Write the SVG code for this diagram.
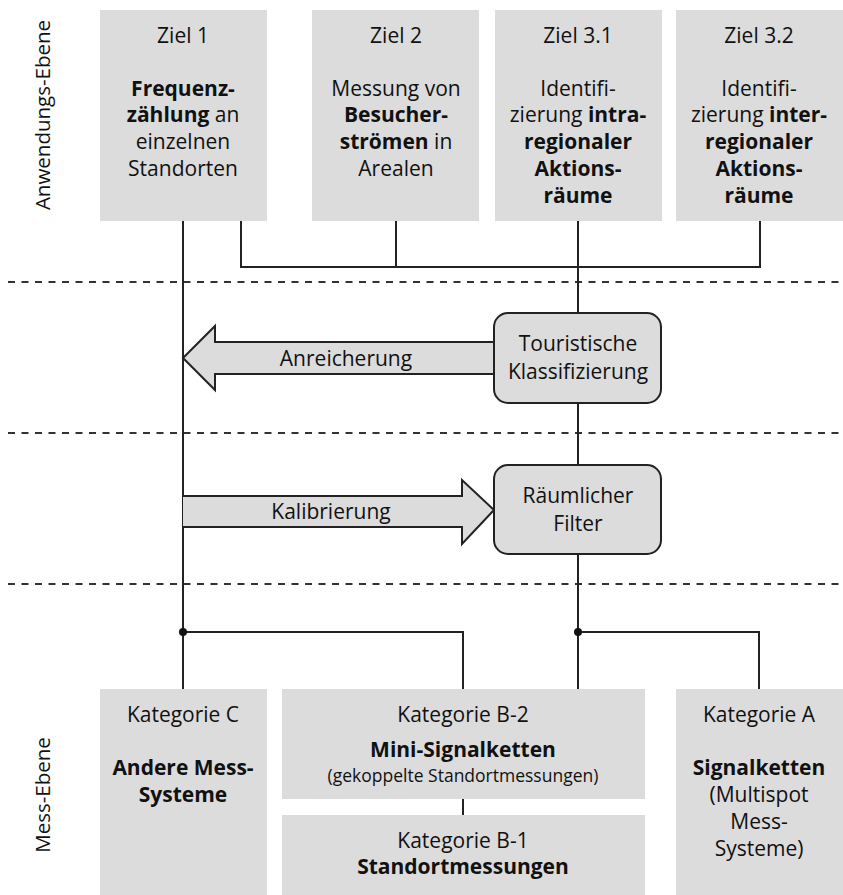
<svg xmlns="http://www.w3.org/2000/svg" width="843" height="895" viewBox="0 0 843 895">
<style>
.box{fill:#dcdcdc}
.rbox{fill:#dcdcdc;stroke:#222;stroke-width:2}
.arrow{fill:#dcdcdc;stroke:#222;stroke-width:2;stroke-linejoin:miter}
.ln{fill:none;stroke:#222;stroke-width:2}
.dash{stroke:#333;stroke-width:2;stroke-dasharray:7 6.5}
text{font-family:"Open Sans","Noto Sans","DejaVu Sans",sans-serif;font-size:21px;fill:#111;text-anchor:middle}
.b{font-weight:bold}
.sm{font-size:17.5px}
.side{font-size:20.5px}
</style>
<rect width="843" height="895" fill="#fff"/>
<g id="separators">
<line class="dash" x1="8" y1="282" x2="843" y2="282"/>
<line class="dash" x1="8" y1="433" x2="843" y2="433"/>
<line class="dash" x1="8" y1="584" x2="843" y2="584"/>
</g>
<g id="connectors">
<path class="ln" d="M183 221 V689"/>
<path class="ln" d="M578 221 V313 M578 403 V465 M578 554 V689"/>
<path class="ln" d="M241 221 V267 H760 V221 M396 221 V267"/>
<path class="ln" d="M183 632 H463 V689 M578 632 H759 V689"/>
<path class="ln" d="M463 799 V815"/>
<circle cx="183" cy="632" r="4" fill="#111"/>
<circle cx="578" cy="632" r="4" fill="#111"/>
<g id="arrow-anreicherung">
<path class="arrow" d="M494 342 H215 V326 L183 358 L215 390 V374 H494"/>
<text x="346" y="366">Anreicherung</text>
</g>
<g id="arrow-kalibrierung">
<path class="arrow" d="M183 496 H462 V480 L494 510 L462 544 V527 H183"/>
<text x="331" y="519">Kalibrierung</text>
</g>
</g>
<g id="label-anwendung"><text class="side" transform="translate(50,115) rotate(-90)">Anwendungs-Ebene</text></g>
<g id="label-mess"><text class="side" transform="translate(50,795) rotate(-90)">Mess-Ebene</text></g>
<g id="ziel1">
<rect class="box" x="100" y="10" width="167" height="211"/>
<text x="183" y="43">Ziel 1</text>
<text x="183" y="96" class="b">Frequenz-</text>
<text x="183" y="122"><tspan class="b">zählung</tspan> an</text>
<text x="183" y="149">einzelnen</text>
<text x="183" y="176">Standorten</text>
</g>
<g id="ziel2">
<rect class="box" x="312" y="10" width="167" height="211"/>
<text x="396" y="43">Ziel 2</text>
<text x="396" y="96">Messung von</text>
<text x="396" y="122" class="b">Besucher-</text>
<text x="396" y="149"><tspan class="b">strömen</tspan> in</text>
<text x="396" y="176">Arealen</text>
</g>
<g id="ziel31">
<rect class="box" x="495" y="10" width="167" height="211"/>
<text x="578" y="43">Ziel 3.1</text>
<text x="578" y="96">Identifi-</text>
<text x="578" y="122">zierung <tspan class="b">intra-</tspan></text>
<text x="578" y="149" class="b">regionaler</text>
<text x="578" y="176" class="b">Aktions-</text>
<text x="578" y="203" class="b">räume</text>
</g>
<g id="ziel32">
<rect class="box" x="676" y="10" width="167" height="211"/>
<text x="759" y="43">Ziel 3.2</text>
<text x="759" y="96">Identifi-</text>
<text x="759" y="122">zierung <tspan class="b">inter-</tspan></text>
<text x="759" y="149" class="b">regionaler</text>
<text x="759" y="176" class="b">Aktions-</text>
<text x="759" y="203" class="b">räume</text>
</g>
<g id="touristische">
<rect class="rbox" x="494" y="313" width="167" height="90" rx="14"/>
<text x="578" y="351">Touristische</text>
<text x="578" y="379">Klassifizierung</text>
</g>
<g id="filter">
<rect class="rbox" x="494" y="465" width="167" height="89" rx="14"/>
<text x="578" y="503">Räumlicher</text>
<text x="578" y="531">Filter</text>
</g>
<g id="kat-c">
<rect class="box" x="100" y="689" width="167" height="206"/>
<text x="183" y="722">Kategorie C</text>
<text x="183" y="775" class="b">Andere Mess-</text>
<text x="183" y="802" class="b">Systeme</text>
</g>
<g id="kat-b2">
<rect class="box" x="282" y="689" width="363" height="110"/>
<text x="463" y="722">Kategorie B-2</text>
<text x="463" y="757" class="b">Mini-Signalketten</text>
<text x="463" y="782" class="sm">(gekoppelte Standortmessungen)</text>
</g>
<g id="kat-b1">
<rect class="box" x="282" y="815" width="363" height="80"/>
<text x="463" y="848">Kategorie B-1</text>
<text x="463" y="874" class="b">Standortmessungen</text>
</g>
<g id="kat-a">
<rect class="box" x="676" y="689" width="167" height="206"/>
<text x="759" y="722">Kategorie A</text>
<text x="759" y="775" class="b">Signalketten</text>
<text x="759" y="802">(Multispot</text>
<text x="759" y="829">Mess-</text>
<text x="759" y="856">Systeme)</text>
</g>
</svg>
